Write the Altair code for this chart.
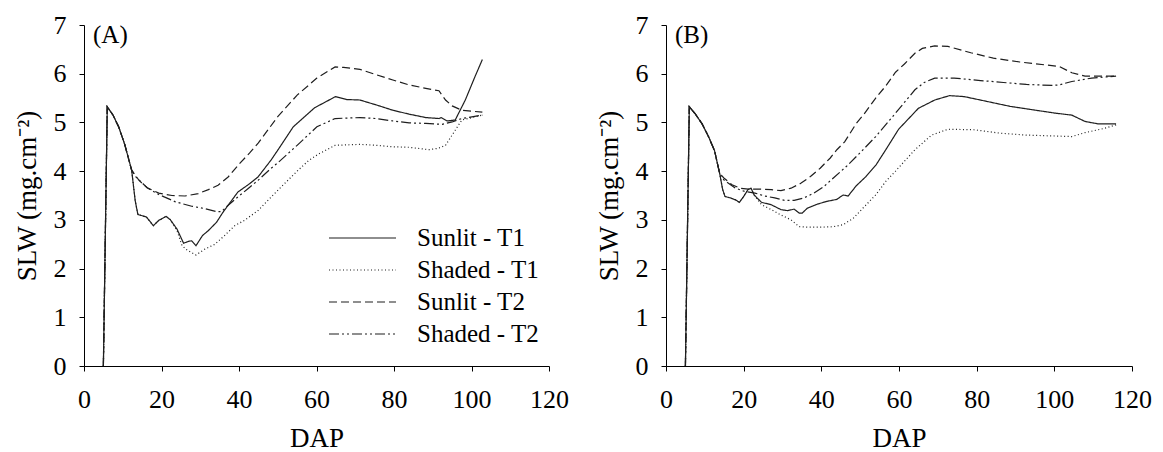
import altair as alt
import pandas as pd

SERIES = ["Sunlit - T1", "Shaded - T1", "Sunlit - T2", "Shaded - T2"]
DASHES = [[1, 0], [1, 2.5], [8, 4], [10, 3, 2, 3, 2, 3]]
X_TICKS = [0, 20, 40, 60, 80, 100, 120]
Y_TICKS = [0, 1, 2, 3, 4, 5, 6, 7]

# ---------- Panel A ----------
A_SUN_T1_X = [5, 6, 7.5, 9, 10.5, 12.3, 13.2, 13.9, 16.1, 16.8, 17.9, 19.3, 21.2, 22.3, 24, 25.7, 27, 27.8, 28.9,
              30.6, 32.1, 34.2, 35.9, 37.2, 39.7, 42.7, 44.9, 48.3, 50, 54, 59.5, 64.9, 67.8, 71.2, 75.4, 79.7,
              83.9, 88.2, 91.6, 92.2, 93.7, 95.8, 98.4, 100.9, 102.8]
A_SUN_T1_Y = [0, 5.32, 5.15, 4.9, 4.55, 4.02, 3.4, 3.11, 3.06, 2.99, 2.88, 2.99, 3.07, 3.0, 2.81, 2.52, 2.56, 2.57,
              2.47, 2.68, 2.78, 2.95, 3.16, 3.30, 3.57, 3.74, 3.88, 4.23, 4.43, 4.91, 5.3, 5.53, 5.47, 5.46, 5.36,
              5.25, 5.17, 5.10, 5.08, 5.10, 5.03, 5.05, 5.46, 5.94, 6.29]

A_SHA_T1_X = [5, 6, 7.5, 9, 10.5, 12.3, 13.2, 13.9, 16.1, 16.8, 17.9, 19.3, 21.2, 22.3, 24, 25.3, 26.6, 28.9, 31.2,
              33.8, 36.3, 38.9, 41.4, 44.9, 48.3, 51.7, 55, 58, 60.5, 64.8, 71.2, 75.4, 79.7, 83.9, 89, 91.5, 93.3,
              95.8, 97.5, 102.8]
A_SHA_T1_Y = [0, 5.32, 5.15, 4.9, 4.55, 4.02, 3.4, 3.11, 3.06, 2.99, 2.88, 2.99, 3.07, 3.0, 2.78, 2.47, 2.38, 2.28,
              2.4, 2.5, 2.68, 2.88, 2.99, 3.19, 3.47, 3.74, 4.0, 4.22, 4.35, 4.53, 4.55, 4.53, 4.50, 4.49, 4.44, 4.47,
              4.53, 4.84, 5.05, 5.15]

A_SUN_T2_X = [5, 6, 7.5, 9, 10.5, 12.3, 14.2, 16.3, 19.3, 22.7, 26.1, 29.5, 32.1, 34.6, 37.2, 40.2, 42.7, 45, 50,
              55, 60.1, 64.8, 67, 71.2, 75.4, 79.7, 83.9, 88.2, 91.6, 93.3, 95, 97.5, 102.8]
A_SUN_T2_Y = [0, 5.32, 5.15, 4.9, 4.55, 4.02, 3.81, 3.66, 3.55, 3.5, 3.49, 3.54, 3.62, 3.71, 3.88, 4.16, 4.37, 4.58,
              5.12, 5.56, 5.91, 6.14, 6.13, 6.09, 5.98, 5.87, 5.77, 5.70, 5.65, 5.46, 5.34, 5.25, 5.21]

A_SHA_T2_X = [5, 6, 7.5, 9, 10.5, 12.3, 13.4, 16.3, 19.3, 23.6, 27.8, 31.2, 34.2, 35.5, 37.2, 39.7, 42.3, 44.9, 48.3,
              50, 55, 60.1, 64.8, 71.2, 75.4, 79.7, 83.9, 88.2, 92.4, 95, 97.5, 102.8]
A_SHA_T2_Y = [0, 5.32, 5.15, 4.9, 4.55, 4.02, 3.88, 3.66, 3.52, 3.37, 3.28, 3.23, 3.17, 3.17, 3.30, 3.47, 3.64, 3.81,
              4.06, 4.17, 4.53, 4.91, 5.08, 5.10, 5.08, 5.03, 4.99, 4.98, 4.96, 5.01, 5.08, 5.15]

# ---------- Panel B ----------
B_SUN_T1_X = [5, 6, 7.5, 9.3, 11, 12.5, 13.8, 14.6, 15.2, 16.6, 17.9, 18.9, 20, 21.1, 21.9, 22.7, 24.6, 27.1, 29.6,
              31.3, 33, 34.3, 35.1, 36.4, 38.9, 41.4, 44, 45.6, 46.9, 49, 51.5, 54.1, 56.6, 59.9, 65, 69.2, 73,
              76.8, 82.7, 88.6, 94.4, 100.3, 104.5, 107.9, 111.3, 115.9]
B_SUN_T1_Y = [0, 5.32, 5.18, 4.97, 4.7, 4.42, 3.96, 3.62, 3.48, 3.45, 3.41, 3.36, 3.48, 3.62, 3.65, 3.51, 3.36, 3.31,
              3.21, 3.19, 3.22, 3.14, 3.14, 3.24, 3.32, 3.38, 3.42, 3.51, 3.49, 3.70, 3.89, 4.13, 4.44, 4.86, 5.29,
              5.46, 5.55, 5.53, 5.43, 5.33, 5.26, 5.19, 5.15, 5.02, 4.97, 4.97]

B_SHA_T1_X = [5, 6, 7.5, 9.3, 11, 12.5, 13.8, 14.6, 15.2, 16.6, 17.9, 18.9, 20, 21.1, 21.9, 22.7, 24.6, 27.1, 29.6,
              32.2, 34.3, 36.4, 39.7, 43.1, 45.6, 48.2, 50.7, 54.1, 56.6, 59.1, 64.1, 68.4, 72.6, 79.3, 86, 92.8,
              104.5, 107.9, 113, 115.9]
B_SHA_T1_Y = [0, 5.32, 5.18, 4.97, 4.7, 4.42, 3.96, 3.62, 3.48, 3.45, 3.41, 3.36, 3.48, 3.62, 3.65, 3.51, 3.31, 3.21,
              3.10, 3.0, 2.86, 2.85, 2.85, 2.86, 2.90, 3.03, 3.24, 3.52, 3.79, 4.0, 4.44, 4.74, 4.86, 4.85, 4.78,
              4.74, 4.71, 4.79, 4.88, 4.95]

B_SUN_T2_X = [5, 6, 7.5, 9.3, 11, 12.5, 13.8, 14.9, 17, 19.1, 21.2, 24.6, 27.1, 29.6, 32.2, 34.7, 37.2, 39.7, 42.3,
              44, 46, 49, 51, 54, 56.6, 59.1, 61.4, 64.1, 66, 69.2, 72.6, 78.5, 84.3, 91.1, 97.8, 101.2, 104.5,
              107.9, 115.9]
B_SUN_T2_Y = [0, 5.32, 5.18, 4.97, 4.7, 4.42, 3.96, 3.86, 3.72, 3.65, 3.63, 3.63, 3.62, 3.60, 3.65, 3.75, 3.89, 4.06,
              4.27, 4.44, 4.6, 4.98, 5.17, 5.5, 5.75, 6.03, 6.2, 6.42, 6.52, 6.57, 6.56, 6.43, 6.32, 6.24, 6.18,
              6.15, 6.02, 5.95, 5.95]

B_SHA_T2_X = [5, 6, 7.5, 9.3, 11, 12.5, 13.8, 14.9, 17.9, 20.4, 22.9, 25.4, 28, 30.5, 33, 35.5, 38.1, 40.6, 43.1,
              46.5, 49.9, 54, 59.1, 64.1, 66.5, 69.2, 74.2, 81, 86.9, 92.8, 99.5, 101.2, 104.5, 109.6, 115.9]
B_SHA_T2_Y = [0, 5.32, 5.18, 4.97, 4.7, 4.42, 3.96, 3.82, 3.65, 3.58, 3.55, 3.49, 3.45, 3.40, 3.40, 3.45, 3.55, 3.68,
              3.86, 4.1, 4.37, 4.71, 5.19, 5.67, 5.82, 5.91, 5.91, 5.86, 5.82, 5.78, 5.76, 5.77, 5.84, 5.91, 5.95]


def frame(pairs):
    rows = []
    for name, xs, ys in pairs:
        for i, (x, y) in enumerate(zip(xs, ys)):
            rows.append({"series": name, "DAP": x, "SLW": y, "order": i})
    return pd.DataFrame(rows)


dfA = frame([(SERIES[0], A_SUN_T1_X, A_SUN_T1_Y), (SERIES[1], A_SHA_T1_X, A_SHA_T1_Y),
             (SERIES[2], A_SUN_T2_X, A_SUN_T2_Y), (SERIES[3], A_SHA_T2_X, A_SHA_T2_Y)])
dfB = frame([(SERIES[0], B_SUN_T1_X, B_SUN_T1_Y), (SERIES[1], B_SHA_T1_X, B_SHA_T1_Y),
             (SERIES[2], B_SUN_T2_X, B_SUN_T2_Y), (SERIES[3], B_SHA_T2_X, B_SHA_T2_Y)])

FONT = "Liberation Serif"
INK = "#1e1e1e"


def panel(df, label, width, show_legend):
    legend = None
    if show_legend:
        legend = alt.Legend(
            title=None, orient="none", legendX=244, legendY=197,
            symbolType="stroke", symbolSize=4489, symbolStrokeWidth=1.2,
            symbolStrokeColor=INK, clipHeight=32, rowPadding=0,
            labelFont=FONT, labelFontSize=25, labelColor="black",
            labelOffset=20, labelLimit=0,
        )
    lines = alt.Chart(df).mark_line(color=INK, strokeWidth=1.2).encode(
        x=alt.X("DAP:Q", scale=alt.Scale(domain=[0, 120], nice=False),
                axis=alt.Axis(values=X_TICKS, title="DAP", labelFlush=False)),
        y=alt.Y("SLW:Q", scale=alt.Scale(domain=[0, 7], nice=False),
                axis=alt.Axis(values=Y_TICKS, title="SLW (mg.cm⁻²)")),
        strokeDash=alt.StrokeDash("series:N", scale=alt.Scale(domain=SERIES, range=DASHES),
                                  legend=legend),
        detail="series:N",
        order="order:Q",
    )
    txt = alt.Chart(pd.DataFrame({"t": [label]})).mark_text(
        font=FONT, fontSize=25, align="left", baseline="top", color="black"
    ).encode(text="t:N", x=alt.value(9), y=alt.value(-2))
    return alt.layer(lines, txt).properties(width=width, height=341)


chart = alt.hconcat(
    panel(dfA, "(A)", 465, True),
    panel(dfB, "(B)", 466, False),
    spacing=26,
).resolve_legend(strokeDash="independent").properties(
    padding={"left": 5, "top": 4, "right": 0, "bottom": 0}
).configure_axis(
    grid=False, domainColor="black", tickColor="black", tickSize=5,
    labelFont=FONT, labelFontSize=26, labelColor="black", labelPadding=13,
    titleFont=FONT, titleFontSize=27, titleFontWeight="normal", titleColor="black",
    titlePadding=12,
).configure_axisX(labelPadding=15, titlePadding=13).configure_view(stroke=None)

chart.save("out.html", embed_options={"renderer": "svg", "actions": False})
